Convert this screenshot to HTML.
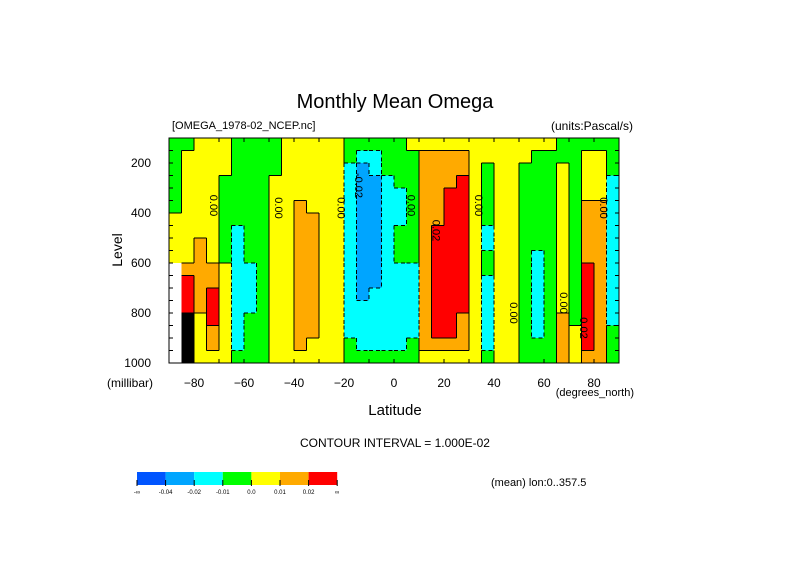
<!DOCTYPE html>
<html><head><meta charset="utf-8"><style>
body{margin:0;background:#fff;width:789px;height:558px;overflow:hidden}
svg text{font-family:"Liberation Sans",sans-serif;fill:#000}
</style></head><body>
<svg id="chart" width="789" height="558" viewBox="0 0 789 558" xmlns="http://www.w3.org/2000/svg">
<text x="395" y="108" font-size="20" text-anchor="middle">Monthly Mean Omega</text>
<text x="172" y="129" font-size="11">[OMEGA_1978-02_NCEP.nc]</text>
<text x="633" y="130" font-size="12" text-anchor="end">(units:Pascal/s)</text>
<g id="cells" shape-rendering="crispEdges"></g>
<g id="edges"></g>
<g id="clabels"></g>
<rect x="169" y="138" width="450" height="225" fill="none" stroke="#000" stroke-width="1"/>
<g id="axes"></g>
<text transform="translate(122,250) rotate(-90)" font-size="14" text-anchor="middle">Level</text>
<text x="107" y="387" font-size="12">(millibar)</text>
<text x="634" y="396" font-size="11" text-anchor="end">(degrees_north)</text>
<text x="395" y="415" font-size="15" text-anchor="middle">Latitude</text>
<text x="395" y="447" font-size="12" text-anchor="middle">CONTOUR INTERVAL = 1.000E-02</text>
<g id="legend"></g>
<text x="491" y="486" font-size="11">(mean) lon:0..357.5</text>
</svg>
<script>
const lats = [-87.5,-82.5,-77.5,-72.5,-67.5,-62.5,-57.5,-52.5,-47.5,-42.5,-37.5,-32.5,-27.5,-22.5,-17.5,-12.5,-7.5,-2.5,2.5,7.5,12.5,17.5,22.5,27.5,32.5,37.5,42.5,47.5,52.5,57.5,62.5,67.5,72.5,77.5,82.5,87.5];
const levels = [125,175,225,275,325,375,425,475,525,575,625,675,725,775,825,875,925,975];
// omega class per latitude column (top->bottom): 0<-0.04,1,2,3,4,5,6>0.02, 7 missing, 8 dense contours
const omegaClass = [
"333333444477777777","344444444456668888","444444445555554444","444444444455666554",
"444333333344444444","333333322222222223","333333333322223333","333333333333333333",
"333444444444444444","444444444444444444","444445555555555554","444444555555555544",
"444444444444444444","444444444444444444","332222222222222233","321111111111122223",
"322111111111222223","333222222222222223","333322233322222223","433333333322222233",
"455555555555555554","455555566666666654","455566666666666654","455666666666665554",
"444444444444444444","443333322332222223","444444444444444444","444444444444444444",
"443333333333333333","433333333222222233","433333333333333333","334444444444445555",
"333333333333333444","344445555566666665","344445555555555555","333222222222222333"];
const legendLabels = ["-\u221e","-0.04","-0.02","-0.01","0.0","0.01","0.02","\u221e"];
const contourLabels = [["0.00",-72,370],["0.00",-46,380],["0.00",-21,380],["-0.02",-14,290],["0.00",7,370],["0.02",17,470],["0.00",34,370],["0.00",48,800],["0.00",68,760],["0.02",76,860],["0.00",84,380]];
const colors = ["#0055ff","#00a5ff","#00ffff","#00ff00","#ffff00","#ffaa00","#ff0000","#ffffff","#000000"];
const NS="http://www.w3.org/2000/svg";
const x = lat => 169 + (lat + 90) * 450 / 180;
const y = lev => 138 + (lev - 100) * 225 / 900;
const cells = document.getElementById('cells');
const edges = document.getElementById('edges');
function edge(x1,y1,x2,y2,dashed){
  const l=document.createElementNS(NS,'line');
  
  
  l.setAttribute('x1',x1);l.setAttribute('y1',y1);l.setAttribute('x2',x2);l.setAttribute('y2',y2);
  l.setAttribute('stroke','#000');l.setAttribute('stroke-width','1');
  if(dashed) l.setAttribute('stroke-dasharray','4 3');
  edges.appendChild(l);
}
lats.forEach((lat, i) => {
  levels.forEach((lev, r) => {
    const c = +omegaClass[i][r];
    const rc = document.createElementNS(NS, 'rect');
    
    
    rc.setAttribute('x', x(lat - 2.5)); rc.setAttribute('y', y(lev - 25));
    rc.setAttribute('width', x(lat + 2.5) - x(lat - 2.5) + 0.5);
    rc.setAttribute('height', y(lev + 25) - y(lev - 25) + 0.5);
    rc.setAttribute('fill', colors[c]);
    cells.appendChild(rc);
    if (c === 7) return;
    if (i + 1 < lats.length) {
      const c2 = +omegaClass[i+1][r];
      if (c2 !== c && c2 !== 7) edge(x(lat+2.5), y(lev-25), x(lat+2.5), y(lev+25), Math.min(c,c2) < 3);
    }
    if (r + 1 < levels.length) {
      const c3 = +omegaClass[i][r+1];
      if (c3 !== c && c3 !== 7) edge(x(lat-2.5), y(lev+25), x(lat+2.5), y(lev+25), Math.min(c,c3) < 3);
    }
  });
});
const cl = document.getElementById('clabels');
contourLabels.forEach(d => {
  const t = document.createElementNS(NS, 'text');
  
  
  t.setAttribute('transform', `translate(${x(d[1])-4},${y(d[2])}) rotate(90)`);
  t.setAttribute('font-size', '11'); t.setAttribute('text-anchor', 'middle');
  t.textContent = d[0]; cl.appendChild(t);
});
const ax = document.getElementById('axes');
function line(x1,y1,x2,y2,name){
  const l=document.createElementNS(NS,'line');
  
  
  l.setAttribute('x1',x1);l.setAttribute('y1',y1);l.setAttribute('x2',x2);l.setAttribute('y2',y2);
  l.setAttribute('stroke','#000');ax.appendChild(l);
}
function label(tx,tyy,s,anchor,name){
  const t=document.createElementNS(NS,'text');
  
  
  t.setAttribute('x',tx);t.setAttribute('y',tyy);t.setAttribute('font-size','12');t.setAttribute('text-anchor',anchor);
  t.textContent=s;ax.appendChild(t);
}
for(let lat=-80;lat<=80;lat+=10){
  line(x(lat),363,x(lat),359,'x-tick');line(x(lat),138,x(lat),142,'x-tick');
  if(lat%20===0) label(x(lat),387,String(lat).replace('-','\u2212'),'middle','x-tick-label');
}
for(let lev=150;lev<=1000;lev+=50){
  line(169,y(lev),173,y(lev),'y-tick');line(619,y(lev),615,y(lev),'y-tick');
  if(lev%200===0) label(151,y(lev)+4,String(lev),'end','y-tick-label');
}
const lg=document.getElementById('legend');
for(let k=0;k<7;k++){
  const r=document.createElementNS(NS,'rect');
  
  
  r.setAttribute('x',137+k*28.6);r.setAttribute('y',472);r.setAttribute('width',28.6);r.setAttribute('height',13);
  r.setAttribute('fill',colors[k]);lg.appendChild(r);
}
legendLabels.forEach((s,k)=>{
  const t=document.createElementNS(NS,'text');
  
  
  t.setAttribute('x',137+k*28.6);t.setAttribute('y',494);t.setAttribute('font-size','6');t.setAttribute('text-anchor','middle');
  t.textContent=s;lg.appendChild(t);
  const l=document.createElementNS(NS,'line');
  
  
  l.setAttribute('x1',137+k*28.6);l.setAttribute('x2',137+k*28.6);l.setAttribute('y1',480);l.setAttribute('y2',486);
  l.setAttribute('stroke','#000');lg.appendChild(l);
});
</script>
</body></html>
